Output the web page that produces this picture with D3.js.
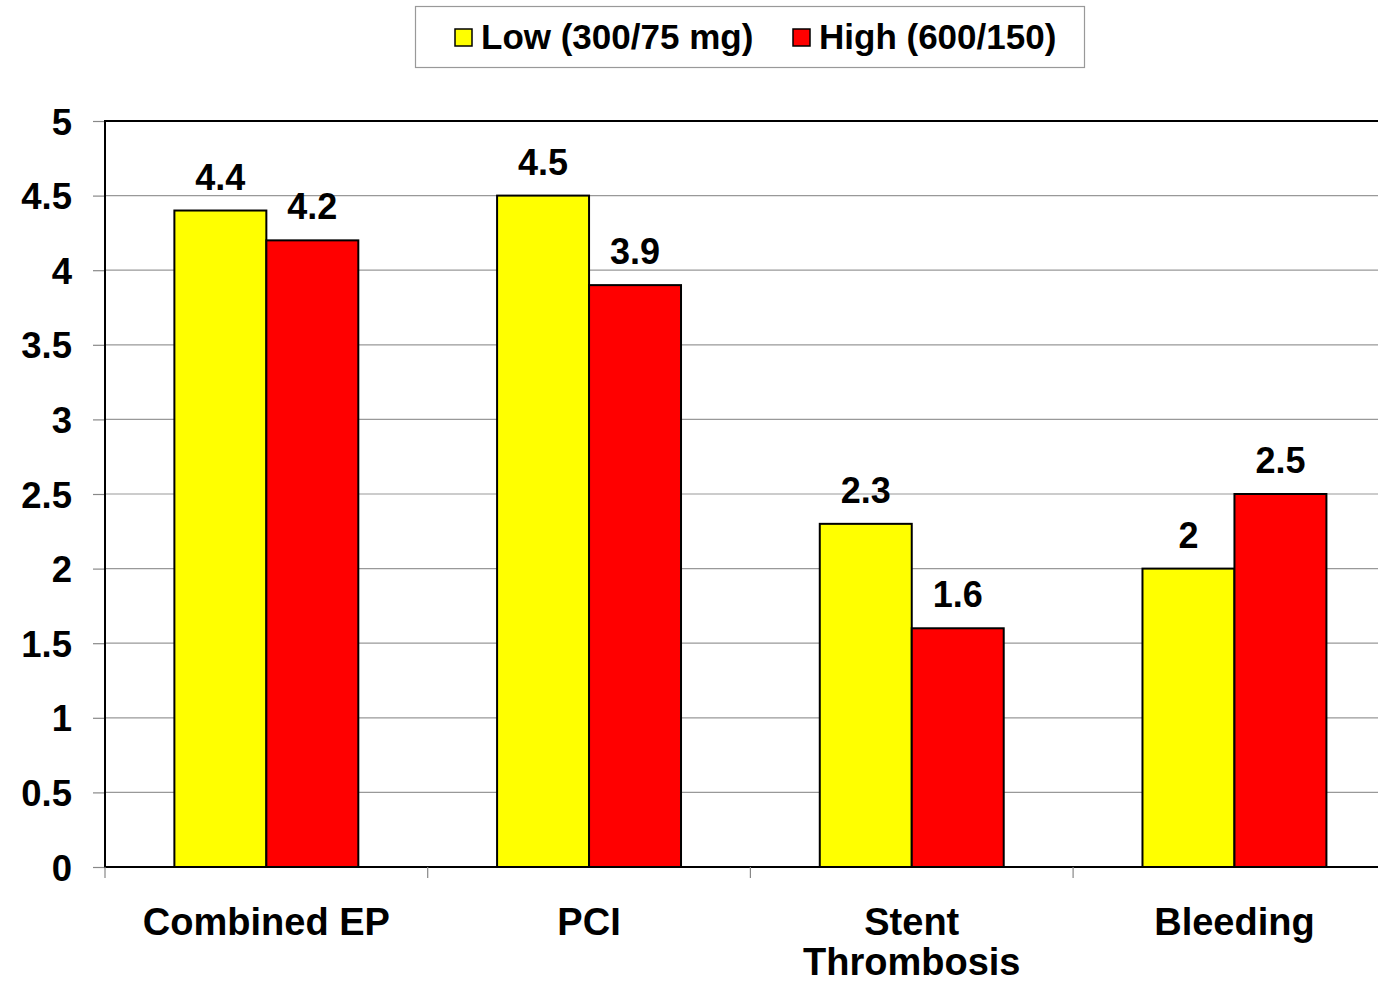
<!DOCTYPE html>
<html><head><meta charset="utf-8">
<script src="https://cdn.jsdelivr.net/npm/d3@7"></script>
<style>
html,body{margin:0;padding:0;background:#fff;overflow:hidden;}
text{font-family:"Liberation Sans",Arial,sans-serif;font-weight:bold;fill:#000;}
</style></head>
<body>
<svg id="chart" width="1378" height="984"></svg>
<script>
const categories = ["Combined EP", "PCI", "Stent Thrombosis", "Bleeding"];
const categoryLines = [["Combined EP"], ["PCI"], ["Stent", "Thrombosis"], ["Bleeding"]];
const seriesNames = ["Low (300/75 mg)", "High (600/150)"];
const lowValues = [4.4, 4.5, 2.3, 2.0];
const highValues = [4.2, 3.9, 1.6, 2.5];
const yTicks = [0, 0.5, 1, 1.5, 2, 2.5, 3, 3.5, 4, 4.5, 5];
const colors = ["#FFFF00", "#FF0000"];

const svg = d3.select("#chart");
const mLeft = 105, mTop = 121, mBottom = 867, mRight = 105 + 4 * 322.7;

const x = d3.scaleBand().domain(categories).range([mLeft, mRight]).paddingInner(0.43).paddingOuter(0.215);
const xs = d3.scaleBand().domain(seriesNames).range([0, x.bandwidth()]);
const y = d3.scaleLinear().domain([0, 5]).range([mBottom, mTop]);

// gridlines
svg.append("g").selectAll("line").data(yTicks.filter(d => d > 0)).join("line")
  .attr("x1", mLeft).attr("x2", 1378)
  .attr("y1", d => y(d)).attr("y2", d => y(d))
  .attr("stroke", d => d === 5 ? "#000" : "#999").attr("stroke-width", d => d === 5 ? 2 : 1.2);

// y axis
const yAxis = d3.axisLeft(y).tickValues(yTicks).tickSize(12).tickFormat(d3.format("~g"));
const gy = svg.append("g").attr("transform", `translate(${mLeft},0)`).call(yAxis);
gy.select(".domain").remove();
gy.selectAll(".tick line").attr("stroke", "#888").attr("stroke-width", 1.2);
gy.selectAll(".tick text").attr("x", -33).attr("dy", "0.36em").style("font-size", "36.5px").style("font-family", "'Liberation Sans',Arial,sans-serif").style("font-weight", "bold").attr("fill", "#000");

// bars
const data = categories.map((c, i) => ({cat: c, vals: [lowValues[i], highValues[i]]}));
const groups = svg.append("g").selectAll("g").data(data).join("g")
  .attr("transform", d => `translate(${x(d.cat)},0)`);
groups.selectAll("rect").data(d => d.vals.map((v, j) => ({v, s: seriesNames[j], j}))).join("rect")
  .attr("x", d => xs(d.s)).attr("width", xs.bandwidth())
  .attr("y", d => y(d.v)).attr("height", d => y(0) - y(d.v))
  .attr("fill", d => colors[d.j]).attr("stroke", "#000").attr("stroke-width", 2);
groups.selectAll("text").data(d => d.vals.map((v, j) => ({v, s: seriesNames[j], j}))).join("text")
  .attr("x", d => xs(d.s) + xs.bandwidth() / 2).attr("y", d => y(d.v) - 21)
  .attr("text-anchor", "middle").style("font-size", "36px")
  .text(d => d3.format("~g")(d.v));

// axes lines
svg.append("line").attr("x1", mLeft).attr("x2", mLeft).attr("y1", mTop - 1).attr("y2", mBottom + 1)
  .attr("stroke", "#000").attr("stroke-width", 2);
svg.append("line").attr("x1", mLeft).attr("x2", 1378).attr("y1", mBottom).attr("y2", mBottom)
  .attr("stroke", "#000").attr("stroke-width", 2);
// x boundary ticks
const bounds = categories.map(c => x(c) - x.step() * x.paddingOuter());
svg.append("g").selectAll("line").data(bounds).join("line")
  .attr("x1", d => d).attr("x2", d => d).attr("y1", mBottom).attr("y2", mBottom + 11)
  .attr("stroke", "#888").attr("stroke-width", 1.2);

// category labels
svg.append("g").selectAll("text").data(categories).join("text")
  .attr("x", (d) => x(d) + x.bandwidth() / 2).attr("y", 935)
  .attr("text-anchor", "middle").style("font-size", "38px")
  .each(function(d, i) {
    d3.select(this).selectAll("tspan").data(categoryLines[i]).join("tspan")
      .attr("x", x(d) + x.bandwidth() / 2).attr("dy", (t, k) => k === 0 ? 0 : 40).text(t => t);
  });

// legend
const lg = svg.append("g");
lg.append("rect").attr("x", 415.5).attr("y", 6.5).attr("width", 669).attr("height", 61)
  .attr("fill", "#fff").attr("stroke", "#999").attr("stroke-width", 1.2);
const legendX = [455, 793];
seriesNames.forEach((s, i) => {
  lg.append("rect").attr("x", legendX[i]).attr("y", 29).attr("width", 17).attr("height", 17)
    .attr("fill", colors[i]).attr("stroke", "#000").attr("stroke-width", 1.5);
  lg.append("text").attr("x", legendX[i] + 26).attr("y", 49).style("font-size", "35px").text(s);
});
</script>
</body></html>
